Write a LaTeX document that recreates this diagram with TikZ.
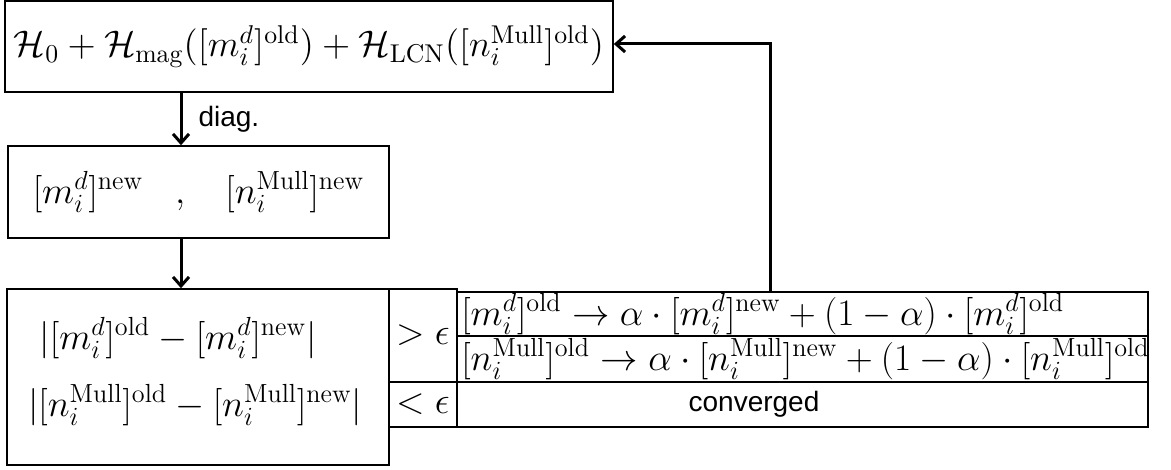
\RequirePackage{fix-cm}
\documentclass[tikz,border=0pt]{standalone}
\usepackage{fontspec}
\usepackage{graphicx}
\newfontfamily\arialfont{Liberation Sans}
\usetikzlibrary{arrows.meta,fit}
\begin{document}
\begin{tikzpicture}[x=0.5pt,y=-0.5pt,
  box/.style={draw, line width=0.8pt, inner sep=0pt},
  thickbox/.style={draw, line width=1.4pt, inner sep=0pt},
  mtxt/.style={inner sep=0pt, font=\fontsize{18.7}{22}\selectfont},
  btxt/.style={inner sep=0pt, font=\fontsize{14.4}{17}\selectfont},
  stxt/.style={inner sep=0pt, font=\arialfont\fontsize{14}{17}\selectfont},
  arr/.style={line width=1.5pt, -{Straight Barb[length=4.5pt,width=8pt,line width=1.5pt]}}]
\useasboundingbox (0,0) rectangle (1171,470);
% boxes
\node[box, fit={(5,1) (613,92)}] (h) {};
\node[btxt] (ht) at (h.center)
  {\resizebox{295pt}{!}{$\mathcal{H}_0+\mathcal{H}_{\mathrm{mag}}([m_i^d]^{\mathrm{old}})+\mathcal{H}_{\mathrm{LCN}}([n_i^{\mathrm{Mull}}]^{\mathrm{old}})$}};
\node[box, fit={(8,146) (389,238)}] (nb) {};
\node[mtxt] (nbt) at (nb.center)
  {$[m_i^d]^{\mathrm{new}}\hspace{16pt},\hspace{17pt}[n_i^{\mathrm{Mull}}]^{\mathrm{new}}$};
\node[box, fit={(7,289) (389,465)}] (chk) {};
\node[mtxt] (l1) at (178,338) {$|[m_i^d]^{\mathrm{old}}-[m_i^d]^{\mathrm{new}}|$};
\node[mtxt] (l2) at (195,405) {$|[n_i^{\mathrm{Mull}}]^{\mathrm{old}}-[n_i^{\mathrm{Mull}}]^{\mathrm{new}}|$};
\node[thickbox, fit={(389,289) (457,382)}] (gt) {};
\node[mtxt] (gtt) at (gt.center) {$>\epsilon$};
\node[box, fit={(389,382) (457,427)}] (lt) {};
\node[mtxt] (ltt) at (lt.center) {$<\epsilon$};
\node[box, fit={(457,292) (1148,336)}] (r1) {};
\node[box, fit={(457,336) (1148,382)}] (r2) {};
\node[box, fit={(457,382) (1148,427)}] (r3) {};
\node[mtxt, anchor=west] (t1) at (461,314)
  {$[m_i^d]^{\mathrm{old}}\rightarrow\alpha\cdot[m_i^d]^{\mathrm{new}}+(1-\alpha)\cdot[m_i^d]^{\mathrm{old}}$};
\node[mtxt, anchor=west] (t2) at (461,359)
  {$[n_i^{\mathrm{Mull}}]^{\mathrm{old}}\rightarrow\alpha\cdot[n_i^{\mathrm{Mull}}]^{\mathrm{new}}+(1-\alpha)\cdot[n_i^{\mathrm{Mull}}]^{\mathrm{old}}$};
\node[stxt] (cv) at (754,404) {converged};
% connectors
\coordinate (a) at (181,0);
\coordinate (b) at (770,44);
\draw[arr] (a |- h.south) -- (a |- nb.north) node[stxt, midway, anchor=west, xshift=8pt] (dg) {diag.};
\draw[arr] (a |- nb.south) -- (a |- chk.north);
\draw[arr] (r1.north -| b) -- (b) -- (h.east |- b);
\end{tikzpicture}
\end{document}
